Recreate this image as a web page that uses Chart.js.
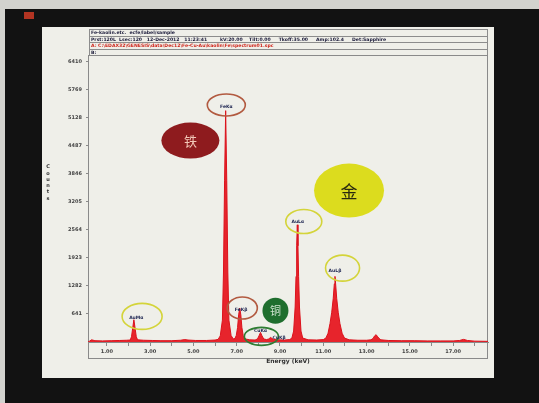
<!DOCTYPE html>
<html><head><meta charset="utf-8">
<script src="https://cdn.jsdelivr.net/npm/chart.js@4"></script>
<style>html,body{margin:0;padding:0;background:#121212;}canvas{display:block}</style>
</head><body>
<canvas id="c" width="539" height="403"></canvas>
<script>
// ---- spectrum (keV, counts) ----
const energy = [0.13,0.20,0.30,0.45,0.80,1.20,1.60,1.90,
  2.08,2.14,2.19,2.25,2.31,2.36,2.42,
  2.70,3.10,3.50,4.00,4.40,4.60,4.75,5.10,5.60,6.00,
  6.14,6.24,6.34,6.39,6.44,6.49,6.54,6.59,6.64,6.74,6.84,6.92,
  6.98,7.04,7.09,7.14,7.19,7.24,7.30,7.40,7.60,7.85,
  7.96,8.03,8.10,8.17,8.25,8.38,
  8.48,8.53,8.57,8.62,8.70,8.90,9.20,9.45,
  9.55,9.63,9.70,9.74,9.77,9.80,9.83,9.86,9.90,9.97,10.05,
  10.30,10.70,11.00,
  11.12,11.22,11.31,11.39,11.46,11.51,11.54,11.57,11.62,11.69,11.77,11.87,11.98,
  12.20,12.60,13.00,13.20,
  13.30,13.37,13.44,13.50,13.57,13.66,
  14.00,14.60,15.20,15.80,16.40,17.00,17.30,17.40,17.48,17.56,17.66,18.00,18.61];
const counts = [0,20,50,30,25,30,35,40,
  45,120,300,510,300,120,50,
  40,35,30,30,40,55,45,35,35,45,
  60,140,500,1600,3700,5290,3700,1600,500,150,70,80,
  150,330,620,777,620,330,150,70,50,45,
  70,140,220,140,70,55,
  70,90,105,85,60,50,45,55,
  90,250,800,1500,2200,2680,2200,1500,800,250,90,
  50,45,55,
  90,200,420,680,1000,1330,1500,1330,1000,680,420,200,90,
  50,40,40,50,
  80,140,167,130,85,50,
  35,30,30,25,25,25,35,50,60,50,35,20,15];

// ---- axis ticks ----
const xTickValues = [1,2,3,4,5,6,7,8,9,10,11,12,13,14,15,16,17,18];
const xTickLabels = ['1.00','','3.00','','5.00','','7.00','','9.00','','11.00','','13.00','','15.00','','17.00',''];
const yTickValues = [641,1282,1923,2564,3205,3846,4487,5128,5769,6410];
const yTickLabels = ['641','1282','1923','2564','3205','3846','4487','5128','5769','6410'];
const xTitle = 'Energy (keV)';
const yTitle = 'Counts';

// ---- peak labels (anchor in keV / counts) ----
const peakNames = ['AuMα','FeKα','FeKβ','CuKα','CuKβ','AuLα','AuLβ'];
const peakLabelE = [2.36, 6.52, 7.20, 8.10, 8.96, 9.82, 11.54];
const peakLabelC = [560, 5370, 730, 265, 90, 2740, 1620];

// ---- rings around peaks ----
const ringE = [2.63, 6.52, 7.26, 8.14, 10.10, 11.89];
const ringC = [585, 5420, 777, 128, 2755, 1690];
// ---- element badges ----
const badgeText = ['铁','金','铜'];
const badgeE = [4.86, 12.19, 8.79];
const badgeC = [4605, 3462, 715];

// ---- header lines ----
const headerLines = [
  'Fe-kaolin.etc.  ecfe/label/sample',
  'Prst:120L  Lsec:120   12-Dec-2012   11:23:41        kV:20.00    Tilt:0.00     Tkoff:35.00     Amp:102.4     Det:Sapphire',
  'A: C:\\EDAX32\\GENESIS\\data\\Dec12\\Fe-Cu-Au\\kaolin\\Fe\\spectrum01.spc',
  'B:'
];

// ---- styles (kept separate from data) ----
const ringStyle = [
  {rx:20, ry:13, color:'#d4d43a'},
  {rx:19, ry:11, color:'#b25a40'},
  {rx:15, ry:11, color:'#b25a40'},
  {rx:17, ry:9,  color:'#2e7d32'},
  {rx:18, ry:12, color:'#d4d43a'},
  {rx:17, ry:13, color:'#d4d43a'}
];
const badgeStyle = [
  {rx:29, ry:18, fill:'#8e1b1e', text:'#f2c8b8', size:13},
  {rx:35, ry:27, fill:'#dcdc1e', text:'#2a2a10', size:17},
  {rx:13, ry:13, fill:'#1f6e2e', text:'#cfe3cf', size:11}
];

const decor = {
  id:'decor',
  beforeDraw(chart){
    const c = chart.ctx;
    c.save();
    c.fillStyle='#121212'; c.fillRect(0,0,539,403);
    c.fillStyle='#d2d2ce'; c.fillRect(0,0,539,9); c.fillRect(0,0,5,403);
    c.fillStyle='#b23422'; c.fillRect(24,12,10,7);
    c.fillStyle='#efefe9'; c.fillRect(42,27,452,351);
    // header
    c.strokeStyle='#8c8c8c'; c.lineWidth=1;
    c.strokeRect(89.5,29.5,398,26);
    [36.5,42.5,49.5].forEach(y=>{c.beginPath();c.moveTo(89.5,y);c.lineTo(487.5,y);c.stroke();});
    c.font='bold 4.6px "DejaVu Sans"'; c.textBaseline='middle'; c.textAlign='left';
    const ys=[33,39.5,46,52.5];
    headerLines.forEach((t,i)=>{c.fillStyle = i===2?'#d0281e':'#1a1a3a'; c.fillText(t,91,ys[i]);});
    // plot box
    c.strokeStyle='#8a8a8a';
    c.strokeRect(88.5,55.5,399,303);
    // y title stacked letters
    c.fillStyle='#333'; c.font='bold 5px "DejaVu Sans"'; c.textAlign='center';
    [...yTitle].forEach((ch,i)=>c.fillText(ch,48,167+i*6.3));
    c.restore();
  },
  afterDatasetsDraw(chart){
    const c = chart.ctx, xs=chart.scales.x, ys=chart.scales.y;
    c.save();
    ringE.forEach((e,i)=>{
      const s=ringStyle[i];
      c.beginPath(); c.ellipse(xs.getPixelForValue(e), ys.getPixelForValue(ringC[i]), s.rx, s.ry, 0, 0, Math.PI*2);
      c.strokeStyle=s.color; c.lineWidth=1.6; c.stroke();
    });
    badgeText.forEach((t,i)=>{
      const s=badgeStyle[i], x=xs.getPixelForValue(badgeE[i]), y=ys.getPixelForValue(badgeC[i]);
      c.beginPath(); c.ellipse(x,y,s.rx,s.ry,0,0,Math.PI*2); c.fillStyle=s.fill; c.fill();
      c.fillStyle=s.text; c.font=s.size+'px "Noto Sans CJK SC"'; c.textAlign='center'; c.textBaseline='middle';
      c.fillText(t,x,y+0.5);
    });
    c.font='bold 4.5px "DejaVu Sans"'; c.fillStyle='#1c2450'; c.textAlign='center'; c.textBaseline='middle';
    peakNames.forEach((n,i)=>c.fillText(n, xs.getPixelForValue(peakLabelE[i]), ys.getPixelForValue(peakLabelC[i])));
    c.restore();
  }
};

Chart.defaults.font.family='"DejaVu Sans"';
new Chart(document.getElementById('c'), {
  type:'line',
  data:{datasets:[{
    data: energy.map((e,i)=>({x:e,y:counts[i]})),
    borderColor:'#dc121c', borderWidth:1, backgroundColor:'rgba(230,24,34,0.95)',
    fill:'origin', pointRadius:0, tension:0
  }]},
  plugins:[decor],
  options:{
    responsive:false, animation:false, devicePixelRatio:1,
    layout:{padding:{left:0,right:51,top:56,bottom:38}},
    plugins:{legend:{display:false},tooltip:{enabled:false}},
    scales:{
      x:{type:'linear',min:0.13,max:18.61,
        afterBuildTicks:s=>{s.ticks=xTickValues.map(v=>({value:v}));},
        afterFit:s=>{s.height=23;},
        ticks:{autoSkip:false,maxRotation:0,padding:3,font:{size:5,weight:'bold'},color:'#444',callback:(v,i)=>xTickLabels[i]},
        grid:{drawOnChartArea:false,drawTicks:true,tickLength:4,color:'#8a8a8a'},
        border:{color:'#8a8a8a'},
        title:{display:true,text:xTitle,font:{size:6,weight:'bold'},color:'#333',padding:0}
      },
      y:{min:0,max:6540,
        afterBuildTicks:s=>{s.ticks=yTickValues.map(v=>({value:v}));},
        afterFit:s=>{s.width=88;},
        ticks:{padding:4,font:{size:5,weight:'bold'},color:'#444',callback:(v,i)=>yTickLabels[i]},
        grid:{drawOnChartArea:false,tickLength:2,color:'#8a8a8a'},
        border:{color:'#8a8a8a'}
      }
    }
  }
});
</script>
</body></html>
